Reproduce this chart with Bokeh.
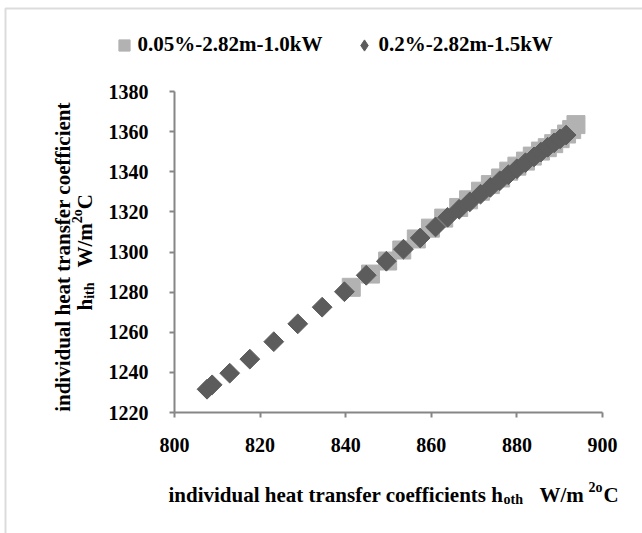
import math
from bokeh.plotting import figure
from bokeh.models import Range1d, FixedTicker, Legend, LegendItem, Label, BoxAnnotation
from bokeh.embed import file_html
from bokeh.resources import INLINE

# ---- data ----
light_x = [841.3, 845.8, 849.8, 853.1, 856.5, 859.8, 862.9, 866.4, 868.7, 871.5, 873.8,
           876.2, 878.1, 880.0, 882.0, 883.6, 885.5, 887.1, 888.6, 890.1, 891.6, 892.8, 893.8]
light_y = [1282.4, 1289.0, 1295.5, 1301.0, 1306.5, 1311.9, 1316.9, 1322.2, 1326.0, 1330.3, 1333.6,
           1336.9, 1340.3, 1342.8, 1345.3, 1347.8, 1350.3, 1352.0, 1354.0, 1356.5, 1358.8, 1361.0, 1363.5]
dark_x = [807.6, 808.8, 812.9, 817.6, 823.2, 828.8, 834.5, 839.7, 844.8, 849.5, 853.5, 857.4,
          861.0, 863.8, 866.5, 869.0, 871.5, 873.8, 876.0, 878.0, 880.0, 882.0, 884.0, 885.6,
          887.2, 888.7, 890.1, 891.5]
dark_y = [1231.6, 1233.8, 1239.6, 1246.6, 1255.3, 1264.2, 1272.5, 1280.2, 1288.4, 1295.4, 1301.4, 1307.0,
          1312.5, 1317.3, 1321.3, 1325.0, 1328.8, 1332.2, 1335.5, 1338.5, 1341.5, 1344.5, 1347.4, 1349.8,
          1352.2, 1354.4, 1356.4, 1358.3]
series_names = ["0.05%-2.82m-1.0kW", "0.2%-2.82m-1.5kW"]
x_ticks = [800, 820, 840, 860, 880, 900]
y_ticks = [1220, 1240, 1260, 1280, 1300, 1320, 1340, 1360, 1380]

FONT = "Liberation Serif"
LIGHT = "#b2b2b2"
DARK = "#5c5c5c"
AXIS = "#868686"

W, H = 642, 533
# pixel position of the plotting box inside the picture
PL, PR, PT, PB = 174, 602, 91, 412
XMIN, XMAX, YMIN, YMAX = 800, 900, 1220, 1380
SX = (PR - PL) / (XMAX - XMIN)
SY = (PB - PT) / (YMAX - YMIN)

def X(px):
    return XMIN + (px - PL) / SX

def Y(py):
    return YMIN + (PB - py) / SY

p = figure(width=W, height=H, output_backend="svg", toolbar_location=None,
           x_range=Range1d(X(0), X(W)), y_range=Range1d(Y(H), Y(0)),
           min_border=0, min_border_left=0, min_border_right=0,
           min_border_top=0, min_border_bottom=0)
p.background_fill_color = "white"
p.border_fill_color = "white"
p.outline_line_color = None
p.xgrid.visible = False
p.ygrid.visible = False

r_light = p.scatter(light_x, light_y, marker="square", size=18, color=LIGHT)
r_dark = p.scatter(dark_x, dark_y, marker="square", angle=math.pi / 4, size=14, color=DARK)
# diamond used only for the legend swatch
r_dark_key = p.scatter(dark_x[:1], dark_y[:1], marker="diamond", size=14, color=DARK, visible=False)

for ax in (p.xaxis[0], p.yaxis[0]):
    ax.axis_line_color = AXIS
    ax.axis_line_width = 2
    ax.major_tick_line_color = AXIS
    ax.major_tick_line_width = 2
    ax.major_tick_in = 0
    ax.major_tick_out = 5
    ax.minor_tick_line_color = None
    ax.major_label_text_font = FONT
    ax.major_label_text_font_style = "bold"
    ax.major_label_text_font_size = "20px"
    ax.major_label_text_color = "black"
p.xaxis[0].ticker = FixedTicker(ticks=x_ticks)
p.yaxis[0].ticker = FixedTicker(ticks=y_ticks)
p.xaxis[0].bounds = (XMIN, XMAX)
p.yaxis[0].bounds = (YMIN, YMAX)
p.xaxis[0].fixed_location = YMIN
p.yaxis[0].fixed_location = XMIN
p.xaxis[0].major_label_standoff = 20
p.yaxis[0].major_label_standoff = 21

# legend
legend = Legend(items=[LegendItem(label=series_names[0], renderers=[r_light]),
                       LegendItem(label=series_names[1], renderers=[r_dark_key])],
                orientation="horizontal", location=(109.5, H - 58.5),
                glyph_width=28, glyph_height=28, label_standoff=-5, spacing=28,
                padding=0, margin=0, border_line_color=None, background_fill_alpha=0,
                inactive_fill_alpha=0,
                label_text_font=FONT, label_text_font_style="bold",
                label_text_font_size="21px", label_text_color="black")
p.add_layout(legend, "center")

def lab(text, px, py, size="21px", angle=0.0, align="left", baseline="alphabetic"):
    p.add_layout(Label(x=X(px), y=Y(py), text=text, angle=angle, text_font=FONT,
                       text_font_style="bold", text_font_size=size, text_color="black",
                       text_align=align, text_baseline=baseline))

# x axis title: individual heat transfer coefficients h_oth   W/m ^2o C
lab("individual heat transfer coefficients h", 168, 494)
lab("oth", 503, 499, size="14px")
lab("W/m", 539, 494)
lab("2o", 588, 487, size="14px")
lab("C", 603, 494)

# y axis title (rotated, two lines)
A = math.pi / 2
lab("individual heat transfer coefficient", 62, 256.5, angle=A, align="center")
lab("h", 84, 310, angle=A)
lab("ith", 88.5, 298.3, size="14px", angle=A)
lab("W/m", 84, 267, angle=A)
lab("2o", 77, 222.7, size="14px", angle=A)
lab("C", 84, 208.7, angle=A)

# outer chart-area border (only its left and top edges fall inside the picture)
p.add_layout(BoxAnnotation(left=X(5), right=X(W + 50), top=Y(8), bottom=Y(H + 50),
                           fill_alpha=0, line_color="#8a8a8a", line_width=2))

open("out.html", "w").write(file_html(p, INLINE))
